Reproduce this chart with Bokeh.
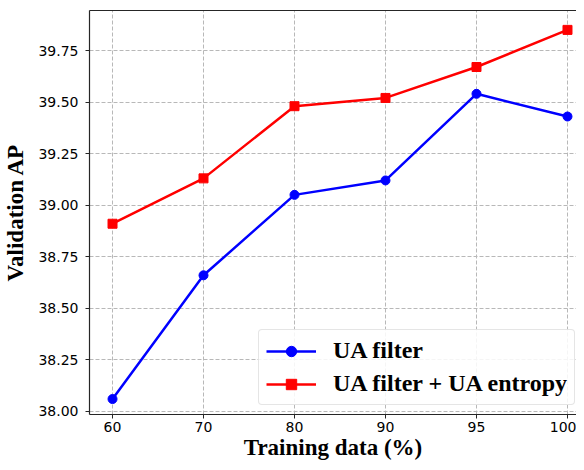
from bokeh.plotting import figure
from bokeh.models import (ColumnDataSource, FixedTicker, NumeralTickFormatter, Range1d,
                          Legend, LegendItem, LinearAxis)
from bokeh.embed import file_html
from bokeh.resources import INLINE

categories = ["60", "70", "80", "90", "95", "100"]
ua_filter = [38.06, 38.66, 39.05, 39.12, 39.54, 39.43]
ua_filter_entropy = [38.91, 39.13, 39.48, 39.52, 39.67, 39.85]
y_ticks = [38.00, 38.25, 38.50, 38.75, 39.00, 39.25, 39.50, 39.75]

xs = list(range(len(categories)))
src = ColumnDataSource(dict(x=xs, a=ua_filter, b=ua_filter_entropy))

p = figure(width=576, height=462, output_backend="svg", toolbar_location=None,
           x_range=Range1d(-0.253, 5.099), y_range=Range1d(37.985, 39.944),
           min_border_left=0, min_border_right=0, min_border_top=10, min_border_bottom=0)
p.outline_line_color = None
p.background_fill_color = "white"
p.border_fill_color = "white"

serif = "Liberation Serif"
sans = "DejaVu Sans"

# axes
p.xaxis.ticker = FixedTicker(ticks=xs)
p.xaxis.major_label_overrides = {i: c for i, c in enumerate(categories)}
p.yaxis.ticker = FixedTicker(ticks=y_ticks)
p.yaxis.formatter = NumeralTickFormatter(format="0.00")
for ax in (p.xaxis[0], p.yaxis[0]):
    ax.axis_line_color = "#262626"
    ax.axis_line_width = 1.2
    ax.major_tick_line_color = "#262626"
    ax.major_tick_in = 0
    ax.major_tick_out = 4
    ax.minor_tick_line_color = None
    ax.major_label_text_font = sans
    ax.major_label_text_font_size = "14px"
    ax.major_label_text_color = "black"
    ax.axis_label_text_font = serif
    ax.axis_label_text_font_style = "bold"
    ax.axis_label_text_font_size = "23px"
    ax.axis_label_text_color = "black"
p.xaxis.axis_label = "Training data (%)"
p.yaxis.axis_label = "Validation AP"
p.xaxis.major_label_standoff = 3
p.xaxis.axis_label_standoff = 0
p.yaxis.major_label_standoff = 7
p.yaxis.axis_label_standoff = 7

top = LinearAxis(ticker=FixedTicker(ticks=[]), axis_line_color="#262626", axis_line_width=1.2,
                 major_tick_line_color=None, minor_tick_line_color=None,
                 major_label_text_font_size="0px")
p.add_layout(top, "above")

# grid
p.xgrid.ticker = FixedTicker(ticks=xs)
p.ygrid.ticker = FixedTicker(ticks=y_ticks)
for g in (p.xgrid[0], p.ygrid[0]):
    g.grid_line_color = "#b8b8b8"
    g.grid_line_dash = "4 2"
    g.grid_line_width = 1

# series
l1 = p.line("x", "a", source=src, line_color="#0000ff", line_width=2.5)
s1 = p.scatter("x", "a", source=src, marker="circle", size=9, fill_color="#0000ff", line_color="#0000ff")
l2 = p.line("x", "b", source=src, line_color="#ff0000", line_width=2.5)
s2 = p.scatter("x", "b", source=src, marker="square", size=9, fill_color="#ff0000", line_color="#ff0000")

legend = Legend(items=[LegendItem(label="UA filter", renderers=[l1, s1]),
                       LegendItem(label="UA filter + UA entropy", renderers=[l2, s2])],
                location=(169, 9))
legend.label_text_font = serif
legend.label_text_font_style = "bold"
legend.label_text_font_size = "24px"
legend.label_text_color = "black"
legend.glyph_width = 50
legend.glyph_height = 26
legend.label_height = 26
legend.label_standoff = 17
legend.spacing = 6
legend.padding = 7
legend.margin = 0
legend.border_line_color = "#cccccc"
legend.border_line_width = 1
legend.border_radius = 4
legend.background_fill_alpha = 0.85
p.add_layout(legend, "center")

open("out.html", "w").write(file_html(p, INLINE))
